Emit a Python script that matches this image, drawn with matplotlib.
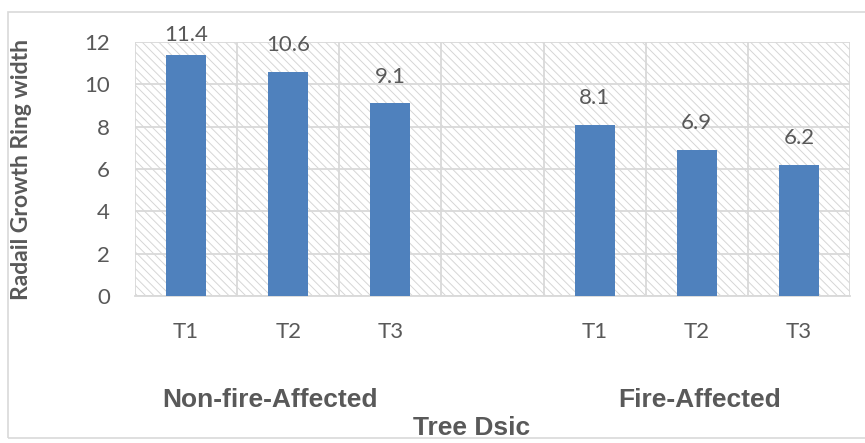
import matplotlib.pyplot as plt
from matplotlib.patches import Rectangle
from matplotlib.ticker import FixedLocator

# Data
tick_labels = ['T1', 'T2', 'T3', '', 'T1', 'T2', 'T3']
non_fire = [11.4, 10.6, 9.1]
fire = [8.1, 6.9, 6.2]
groups = ['Non-fire-Affected', 'Fire-Affected']

values = non_fire + [None] + fire
txt = '#595959'
grid = '#d9d9d9'

plt.rcParams['hatch.color'] = '#d6d6d6'
plt.rcParams['hatch.linewidth'] = 0.7

fig = plt.figure(figsize=(8.65, 4.43), dpi=100)
ax = fig.add_axes([135 / 865, 1 - 296 / 443, 715 / 865, 254 / 443])

# hatched plot area background
ax.add_patch(Rectangle((0, 0), 1, 1, transform=ax.transAxes, facecolor='white',
                       edgecolor='#d6d6d6', hatch='\\\\\\\\', linewidth=0, zorder=0))

xs = [i for i, v in enumerate(values) if v is not None]
hs = [v for v in values if v is not None]
bars = ax.bar(xs, hs, width=0.39, color='#4f81bd', zorder=3)
for x, h in zip(xs, hs):
    # keep the top label inside the chart like Excel does
    off = 12 if h < 11 else 7
    ax.annotate(f'{h}', (x, h), xytext=(0, off), textcoords='offset points',
                ha='center', va='bottom', fontsize=16, color=txt, family='Lato')

ax.set_xlim(-0.5, 6.5)
ax.set_ylim(0, 12)
ax.set_yticks(range(0, 13, 2))
ax.set_xticks(range(7))
ax.set_xticklabels(tick_labels)
ax.xaxis.set_minor_locator(FixedLocator([i - 0.5 for i in range(8)]))
ax.grid(axis='y', color=grid, linewidth=1.3, zorder=1)
ax.grid(axis='x', which='minor', color=grid, linewidth=1.3, zorder=1)
ax.grid(axis='x', which='major', visible=False)
ax.set_axisbelow(True)
for s in ['top', 'right', 'left']:
    ax.spines[s].set_visible(False)
ax.spines['bottom'].set_color(grid)
ax.spines['bottom'].set_linewidth(1.3)
ax.tick_params(axis='both', which='both', length=0, colors=txt, labelsize=16)
ax.tick_params(axis='x', pad=19)
ax.tick_params(axis='y', pad=18)
for lab in ax.get_xticklabels() + ax.get_yticklabels():
    lab.set_family('Lato')

ax.set_ylabel('Radail Growth Ring width', fontsize=16.5, fontweight='bold',
              color=txt, family='Lato')
ax.yaxis.set_label_coords((32 - 135) / 715, 0.5)

# group labels and axis title
fig.text(270 / 865, 1 - 400 / 443, groups[0], ha='center', va='center', fontsize=19,
         fontweight='bold', color=txt, family='Liberation Sans')
fig.text(700 / 865, 1 - 400 / 443, groups[1], ha='center', va='center', fontsize=19,
         fontweight='bold', color=txt, family='Liberation Sans')
fig.text(472 / 865, 1 - 428 / 443, 'Tree Dsic', ha='center', va='center', fontsize=19,
         fontweight='bold', color=txt, family='Liberation Sans')

# chart border
fig.patches.append(Rectangle((8 / 865, 5 / 443), 1.0, 426 / 443, transform=fig.transFigure,
                             fill=False, edgecolor=grid, linewidth=1.2))

fig.savefig('out.png', dpi=100)
